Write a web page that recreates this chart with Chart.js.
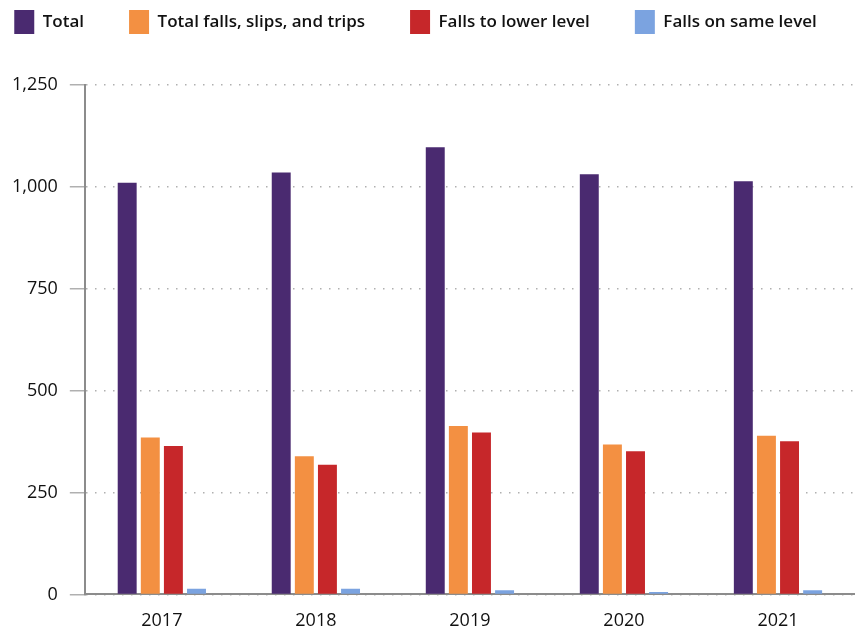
<!DOCTYPE html>
<html>
<head>
<meta charset="utf-8">
<script src="https://cdn.jsdelivr.net/npm/chart.js@4"></script>
<style>
  html, body { margin: 0; padding: 0; background: #fff; overflow: hidden; }
  #wrap { width: 855px; height: 633px; position: relative; }
</style>
</head>
<body>
<div id="wrap"><canvas id="grafico"></canvas></div>
<script>
// Datos
const years = ['2017', '2018', '2019', '2020', '2021'];
const total = [1010, 1035, 1097, 1031, 1014];
const totalFalls = [385, 339, 413, 368, 389];
const fallsLower = [364, 318, 397, 351, 376];
const fallsSame = [14, 14, 10, 6, 10];
const yTicks = [0, 250, 500, 750, 1000, 1250];

const seriesNames = ['Total', 'Total falls, slips, and trips', 'Falls to lower level', 'Falls on same level'];
const colores = ['#4a2a70', '#f39042', '#c6272a', '#7ba3e0'];

// Leyenda en una sola fila, con espacio extra debajo
const legendSpacing = {
    id: 'legendSpacing',
    beforeInit(chart) {
        const fitOriginal = chart.legend.fit;
        chart.legend.fit = function () {
            const anchoReal = this.maxWidth;
            this.maxWidth = 2000;
            fitOriginal.bind(chart.legend)();
            this.maxWidth = anchoReal;
            this.width = anchoReal;
            this.height += 41;
        };
    },
    afterLayout(chart) {
        // ensanchar la caja de la leyenda para que no salte de línea al dibujar
        chart.legend.left -= 69;
        chart.legend.right = 900;
    }
};

const ctx = document.getElementById('grafico').getContext('2d');
const grafico = new Chart(ctx, {
    type: 'bar',
    data: {
        labels: years,
        datasets: [total, totalFalls, fallsLower, fallsSame].map((d, i) => ({
            label: seriesNames[i],
            data: d,
            backgroundColor: colores[i],
            borderWidth: 0,
            categoryPercentage: 0.6,
            barPercentage: 0.82
        }))
    },
    options: {
        responsive: true,
        maintainAspectRatio: false,
        animation: false,
        layout: { padding: { left: 0, right: -8, top: -35, bottom: -15 } },
        plugins: {
            tooltip: { enabled: false },
            legend: {
                position: 'top',
                labels: {
                    boxWidth: 20,
                    boxHeight: 24,
                    padding: 45,
                    color: '#111',
                    font: { family: 'Open Sans', size: 17, weight: '600' }
                }
            }
        },
        scales: {
            x: {
                grid: { display: true, color: 'transparent', drawTicks: false },
                border: { display: true, color: '#8c8c8c', width: 2 },
                ticks: {
                    padding: 16,
                    color: '#111',
                    font: { family: 'Open Sans', size: 18 }
                }
            },
            y: {
                min: 0,
                max: 1250,
                afterBuildTicks(axis) {
                    axis.ticks = yTicks.map(v => ({ value: v }));
                },
                grid: {
                    color: '#b0b0b0',
                    lineWidth: 1.5,
                    tickLength: 15,
                    tickBorderDash: [],
                    tickColor: '#b0b0b0',
                    tickWidth: 1.5
                },
                border: { display: true, color: '#8c8c8c', width: 2, dash: [1.5, 7.5] },
                ticks: {
                    padding: 12,
                    color: '#111',
                    font: { family: 'Open Sans', size: 18 },
                    callback: v => v.toLocaleString('en-US')
                }
            }
        }
    },
    plugins: [legendSpacing]
});
</script>
</body>
</html>
